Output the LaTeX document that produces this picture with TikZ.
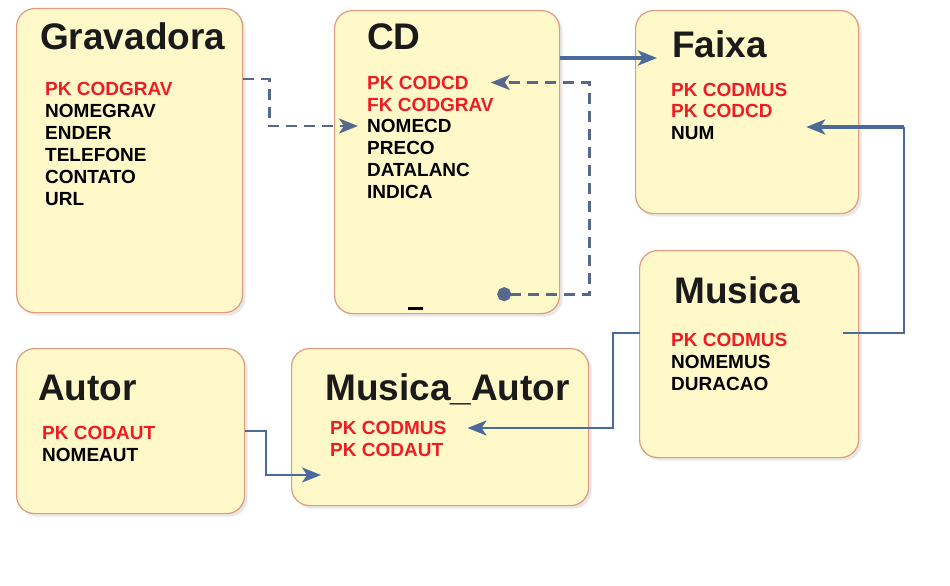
\documentclass[tikz,border=0pt]{standalone}
\usepackage{fontspec}
\setmainfont{Liberation Sans}
\usepackage{xcolor}
\usepackage{tikz}
\usetikzlibrary{arrows.meta,calc,shadows}

\definecolor{boxfill}{HTML}{FFF8C8}
\definecolor{boxline}{HTML}{E09A7E}
\definecolor{linkblue}{HTML}{4A6A9C}
\definecolor{dashblue}{HTML}{56698A}
\definecolor{keyred}{HTML}{EE1C24}
\definecolor{ttlblack}{HTML}{1A1A1A}

\begin{document}
\begin{tikzpicture}[
  x=1pt, y=-1pt,
  entity/.style={draw=boxline, line width=1.2pt, fill=boxfill, rounded corners=18pt, anchor=north west, inner sep=0pt,
    drop shadow={shadow xshift=3pt, shadow yshift=-3pt, opacity=0.18}},
  ttl/.style={anchor=base west, inner sep=0pt, text=ttlblack, font=\fontsize{37}{40}\selectfont\bfseries},
  attr/.style={anchor=west, inner sep=0pt, text height=13.6pt, text depth=0pt, font=\fontsize{19}{22}\selectfont\bfseries},
  pk/.style={attr, text=keyred},
  link/.style={draw=linkblue, line width=2.2pt, -{Stealth[length=19pt,width=15pt,inset=5pt]}},
  tlink/.style={link, line width=4pt},
  dlink/.style={link, draw=dashblue, line width=2.8pt, dash pattern=on 11pt off 7pt}
]
\useasboundingbox[fill=white] (0,0) rectangle (950,586);

\node[entity, minimum width=226pt, minimum height=304pt] (grav) at (16,8) {};
\node[entity, minimum width=225pt, minimum height=303pt] (cd) at (334,10) {};
\node[entity, minimum width=223pt, minimum height=203pt] (faixa) at (635,10) {};
\node[entity, minimum width=219pt, minimum height=207pt] (musica) at (639,250) {};
\node[entity, minimum width=228pt, minimum height=165pt] (autor) at (16,348) {};
\node[entity, minimum width=297pt, minimum height=157pt] (musaut) at (291,348) {};

\node[ttl] (grav-ttl) at (40,50) {Gravadora};
\node[pk] (grav-pk) at (45,89) {PK CODGRAV};
\node[attr] (grav-nome) at (45,111) {NOMEGRAV};
\node[attr] (grav-ender) at (45,133) {ENDER};
\node[attr] (grav-fone) at (45,155) {TELEFONE};
\node[attr] (grav-cont) at (45,177) {CONTATO};
\node[attr] (grav-url) at (45,199) {URL};

\node[ttl] (cd-ttl) at (367,49) {CD};
\node[pk] (cd-pk) at (367,82.5) {PK CODCD};
\node[pk] (cd-fk) at (367,104.5) {FK CODGRAV};
\node[attr] (cd-nome) at (367,126) {NOMECD};
\node[attr] (cd-preco) at (367,148) {PRECO};
\node[attr] (cd-data) at (367,170) {DATALANC};
\node[attr] (cd-ind) at (367,192) {INDICA};

\node[ttl] (faixa-ttl) at (672,58) {Faixa};
\node[pk] (faixa-pkm) at (671,89.5) {PK CODMUS};
\node[pk] (faixa-pkc) at (671,111) {PK CODCD};
\node[attr] (faixa-num) at (671,133) {NUM};

\node[ttl] (mus-ttl) at (674,303) {Musica};
\node[pk] (mus-pk) at (671,340) {PK CODMUS};
\node[attr] (mus-nome) at (671,362) {NOMEMUS};
\node[attr] (mus-dur) at (671,384) {DURACAO};

\node[ttl] (aut-ttl) at (38,400) {Autor};
\node[pk] (aut-pk) at (42,432.5) {PK CODAUT};
\node[attr] (aut-nome) at (42,454.5) {NOMEAUT};

\node[ttl] (ma-ttl) at (325,400) {Musica\_Autor};
\node[pk] (ma-pkm) at (330,428) {PK CODMUS};
\node[pk] (ma-pka) at (330,449.5) {PK CODAUT};

\coordinate (cd-dot) at ($(cd.south east)+(-63,-20)$);
\draw[black, line width=3pt] ($(cd.south)+(-39,-6)$) -- ++(15,0);

\draw[dlink] ([yshift=-71pt]grav.north east) -- ++(26,0) |- ([xshift=-9pt]cd-nome.west);
\draw[dlink, {Circle[length=14pt]}-{Stealth[length=19pt,width=15pt,inset=5pt]}] (cd-dot) -- ++(92,0) |- ([xshift=22pt]cd-pk.east);
\draw[tlink] ([yshift=-48pt]cd.north east) -- ($(faixa.north west)+(22,48)$);
\draw[link, -] ($(musica.north east)+(-16,83)$) -| ($(faixa.north east)+(45,117)$);
\draw[tlink] ($(faixa.north east)+(45,117)$) -- ($(faixa.north east)+(-53,117)$);
\draw[link] ($(musica.north west)+(1,83)$) -- ++(-27,0) |- ([xshift=21pt]ma-pkm.east);
\draw[link] (autor.east) -- ++(21,0) |- ($(musaut.north west)+(30,127)$);

\end{tikzpicture}
\end{document}
